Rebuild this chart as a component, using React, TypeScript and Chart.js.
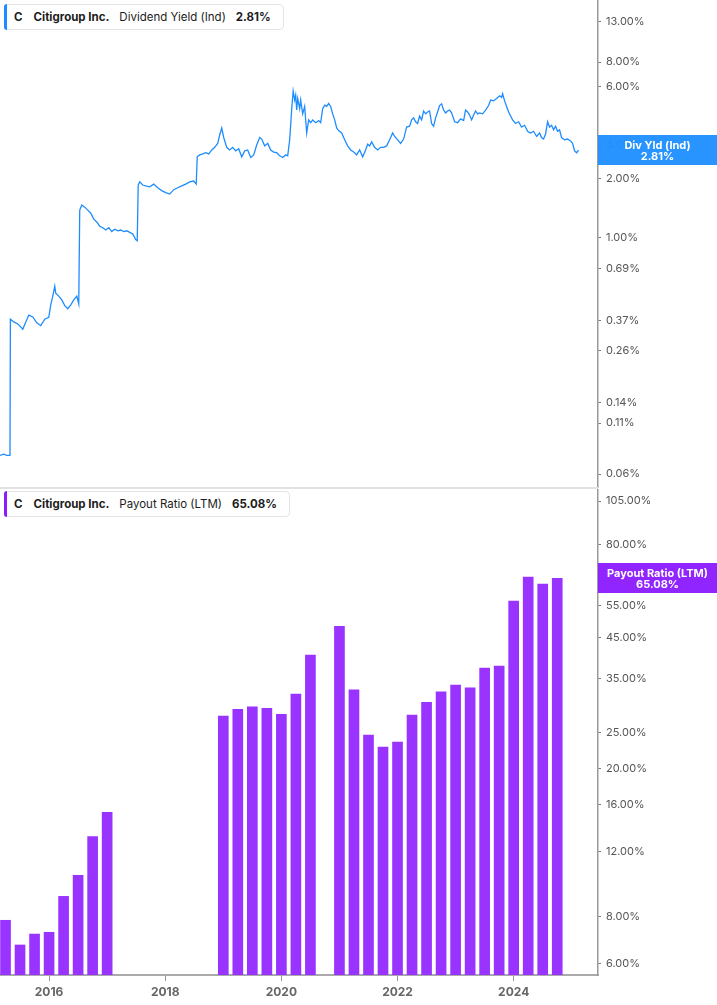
import React, { useEffect, useRef } from "react";
import { Chart, registerables } from "chart.js";

Chart.register(...registerables);

// ---------- data ----------
const yieldDates = [
  2015.152, 2015.220, 2015.272, 2015.327, 2015.334, 2015.393, 2015.461, 2015.513, 2015.547, 2015.599,
  2015.651, 2015.720, 2015.788, 2015.857, 2015.926, 2015.995, 2016.029, 2016.064, 2016.098, 2016.115,
  2016.167, 2016.219, 2016.270, 2016.322, 2016.374, 2016.425, 2016.477, 2016.511, 2016.528, 2016.563,
  2016.615, 2016.666, 2016.718, 2016.770, 2016.821, 2016.873, 2016.924, 2016.976, 2017.028, 2017.079,
  2017.131, 2017.183, 2017.234, 2017.286, 2017.338, 2017.389, 2017.441, 2017.492, 2017.518, 2017.535,
  2017.561, 2017.613, 2017.665, 2017.733, 2017.802, 2017.871, 2017.940, 2018.009, 2018.077, 2018.146,
  2018.215, 2018.284, 2018.353, 2018.422, 2018.491, 2018.534, 2018.551, 2018.594, 2018.646, 2018.697,
  2018.749, 2018.801, 2018.852, 2018.904, 2018.938, 2018.973, 2019.007, 2019.059, 2019.110, 2019.162,
  2019.214, 2019.265, 2019.317, 2019.369, 2019.420, 2019.472, 2019.524, 2019.575, 2019.627, 2019.661,
  2019.713, 2019.765, 2019.816, 2019.868, 2019.919, 2019.971, 2020.023, 2020.074, 2020.109, 2020.143,
  2020.177, 2020.203, 2020.229, 2020.246, 2020.264, 2020.281, 2020.315, 2020.332, 2020.367, 2020.401,
  2020.436, 2020.470, 2020.505, 2020.539, 2020.591, 2020.642, 2020.677, 2020.711, 2020.746, 2020.780,
  2020.814, 2020.849, 2020.883, 2020.918, 2020.952, 2020.986, 2021.038, 2021.090, 2021.141, 2021.193,
  2021.245, 2021.296, 2021.348, 2021.400, 2021.451, 2021.486, 2021.520, 2021.554, 2021.606, 2021.658,
  2021.709, 2021.761, 2021.813, 2021.864, 2021.916, 2021.950, 2022.002, 2022.053, 2022.105, 2022.157,
  2022.208, 2022.243, 2022.277, 2022.312, 2022.346, 2022.380, 2022.415, 2022.449, 2022.484, 2022.518,
  2022.552, 2022.587, 2022.621, 2022.656, 2022.690, 2022.724, 2022.759, 2022.793, 2022.828, 2022.862,
  2022.897, 2022.931, 2022.983, 2023.034, 2023.086, 2023.138, 2023.172, 2023.207, 2023.241, 2023.276,
  2023.310, 2023.344, 2023.379, 2023.413, 2023.465, 2023.517, 2023.568, 2023.603, 2023.654, 2023.706,
  2023.758, 2023.792, 2023.809, 2023.844, 2023.878, 2023.913, 2023.947, 2023.981, 2024.033, 2024.085,
  2024.136, 2024.188, 2024.240, 2024.291, 2024.343, 2024.395, 2024.446, 2024.480, 2024.515, 2024.549,
  2024.584, 2024.618, 2024.653, 2024.687, 2024.721, 2024.756, 2024.790, 2024.825, 2024.876, 2024.928,
  2024.980, 2025.014, 2025.049, 2025.083, 2025.117,
];

const yieldValues = [
  0.075, 0.076, 0.075, 0.075, 0.378, 0.366, 0.357, 0.345, 0.335, 0.366,
  0.397, 0.388, 0.362, 0.350, 0.378, 0.386, 0.448, 0.497, 0.559, 0.514,
  0.497, 0.475, 0.444, 0.428, 0.448, 0.475, 0.497, 0.453, 1.382, 1.467,
  1.43, 1.38, 1.33, 1.24, 1.20, 1.14, 1.12, 1.09, 1.12, 1.07,
  1.10, 1.08, 1.09, 1.07, 1.08, 1.06, 1.04, 0.973, 0.96, 1.86,
  1.93, 1.86, 1.84, 1.82, 1.88, 1.80, 1.74, 1.70, 1.67, 1.76,
  1.80, 1.84, 1.88, 1.93, 1.95, 1.88, 2.60, 2.66, 2.69, 2.73,
  2.69, 2.82, 2.91, 3.05, 3.37, 3.66, 3.27, 2.91, 2.82, 2.91,
  2.79, 2.86, 2.60, 2.79, 2.82, 2.58, 2.66, 2.99, 3.27, 3.21,
  2.96, 3.05, 2.82, 2.75, 2.73, 2.63, 2.58, 2.66, 2.63, 3.18,
  4.53, 5.68, 5.10, 5.40, 4.53, 5.20, 4.60, 5.10, 4.33, 4.73,
  3.45, 4.03, 3.90, 4.03, 3.90, 4.00, 3.90, 4.60, 4.80, 4.73,
  4.90, 4.73, 4.33, 4.03, 3.66, 3.55, 3.45, 3.18, 2.96, 2.82,
  2.75, 2.66, 2.82, 2.60, 2.82, 3.02, 2.96, 3.10, 2.91, 2.82,
  2.91, 2.91, 2.96, 3.18, 3.45, 3.31, 3.18, 3.05, 3.21, 3.70,
  3.74, 4.03, 4.13, 3.94, 3.86, 4.22, 4.03, 4.48, 4.33, 4.43,
  4.48, 3.86, 3.74, 4.13, 4.43, 4.78, 4.88, 4.53, 4.38, 4.48,
  4.53, 4.38, 3.94, 3.90, 4.08, 4.00, 4.53, 4.43, 4.27, 4.03,
  4.27, 4.48, 4.33, 4.38, 4.33, 4.53, 4.78, 5.10, 5.05, 5.20,
  5.37, 5.27, 5.50, 5.05, 4.73, 4.43, 4.22, 4.03, 3.86, 3.94,
  3.70, 3.78, 3.52, 3.45, 3.52, 3.31, 3.45, 3.27, 3.21, 3.41,
  3.94, 3.70, 3.78, 3.58, 3.74, 3.52, 3.58, 3.27, 3.18, 3.21,
  3.14, 3.05, 2.79, 2.73, 2.81,
];

const payoutDates = [
  2015.25, 2015.5, 2015.75, 2016.0, 2016.25, 2016.5, 2016.75, 2017.0,
  2017.25, 2017.5, 2017.75, 2018.0, 2018.25, 2018.5, 2018.75,
  2019.0, 2019.25, 2019.5, 2019.75, 2020.0, 2020.25, 2020.5, 2020.75,
  2021.0, 2021.25, 2021.5, 2021.75, 2022.0, 2022.25, 2022.5, 2022.75,
  2023.0, 2023.25, 2023.5, 2023.75, 2024.0, 2024.25, 2024.5, 2024.75,
];

const payoutValues: (number | null)[] = [
  7.83, 6.72, 7.19, 7.27, 9.08, 10.34, 13.14, 15.28,
  null, null, null, null, null, null, null,
  27.74, 28.92, 29.38, 29.09, 28.04, 31.78, 40.47, null,
  48.35, 32.6, 24.66, 22.89, 23.6, 27.9, 30.2, 32.2,
  33.6, 33.0, 37.3, 37.8, 56.5, 65.6, 62.8, 65.08,
];

const yieldTicks = [13, 8, 6, 3, 2, 1, 0.69, 0.37, 0.26, 0.14, 0.11, 0.06];
const payoutTicks = [105, 80, 55, 45, 35, 25, 20, 16, 12, 8, 6];
const yearTicks = [2016, 2018, 2020, 2022, 2024];

const ticker = "C";
const company = "Citigroup Inc.";
const yieldName = "Dividend Yield (Ind)";
const yieldTag = "Div Yld (Ind)";
const payoutName = "Payout Ratio (LTM)";

// ---------- styling ----------
const BLUE = "#1E8CFF";
const BLUE_TAG = "#1E90FF";
const PURPLE_BAR = "#9933FF";
const PURPLE_TAG = "#8C1CFF";
const FONT = "Inter, 'Noto Sans', 'DejaVu Sans', sans-serif";
const AXIS_W = 119;
const X_MIN = 2015.155;
const X_MAX = 2025.452;

const valueTag = {
  id: "valueTag",
  afterDraw(chart: any, _args: any, opts: any) {
    const ys = chart.scales.y;
    const ctx = chart.ctx;
    const y = ys.getPixelForValue(opts.value);
    const x0 = ys.left;
    const w = chart.width - x0;
    ctx.save();
    ctx.globalAlpha = 0.96;
    ctx.fillStyle = opts.color;
    ctx.fillRect(x0, Math.round(y - 15), w, 30);
    ctx.globalAlpha = 1;
    ctx.fillStyle = "#ffffff";
    ctx.font = "bold 11px " + FONT;
    ctx.textAlign = "center";
    ctx.textBaseline = "middle";
    ctx.fillText(opts.label, x0 + w / 2, y - 5);
    ctx.fillText(opts.value.toFixed(2) + "%", x0 + w / 2, y + 6);
    ctx.restore();
  },
};

function yAxis(min: number, max: number, ticks: number[]) {
  return {
    type: "logarithmic" as const,
    position: "right" as const,
    min,
    max,
    afterBuildTicks: (s: any) => {
      s.ticks = ticks.map((v) => ({ value: v }));
    },
    afterFit: (s: any) => {
      s.width = AXIS_W;
      s.paddingTop = 0;
      s.paddingBottom = 0;
    },
    ticks: {
      autoSkip: false,
      callback: (v: any) => Number(v).toFixed(2) + "%",
      color: "#555",
      font: { size: 11, family: FONT },
      padding: 5,
    },
    grid: { drawOnChartArea: false, tickLength: 3, color: "#777", lineWidth: 1 },
    border: { color: "#9a9a9a", width: 1.5 },
  };
}

function Legend({ top, color, name, value }: { top: number; color: string; name: string; value: string }) {
  return (
    <div
      style={{
        position: "absolute",
        left: 4,
        top,
        height: 26,
        boxSizing: "border-box",
        border: "1px solid #e4e4e4",
        borderRadius: 4,
        display: "flex",
        alignItems: "center",
        fontFamily: FONT,
        fontSize: 11.5,
        color: "#1c1c1c",
        background: "#fff",
        paddingLeft: 9,
        paddingRight: 12,
        whiteSpace: "nowrap",
      }}
    >
      <div
        style={{
          position: "absolute",
          left: -1,
          top: -1,
          bottom: -1,
          width: 3,
          background: color,
          borderRadius: "3px 0 0 3px",
        }}
      />
      <span style={{ fontWeight: 700 }}>{ticker}</span>
      <span style={{ fontWeight: 700, marginLeft: 11 }}>{company}</span>
      <span style={{ marginLeft: 10 }}>{name}</span>
      <span style={{ fontWeight: 700, marginLeft: 10 }}>{value}</span>
    </div>
  );
}

export default function App() {
  const topRef = useRef<HTMLCanvasElement>(null);
  const botRef = useRef<HTMLCanvasElement>(null);

  useEffect(() => {
    Chart.defaults.font.family = FONT;
    const lastYield = yieldValues[yieldValues.length - 1];
    const lastPayout = payoutValues[payoutValues.length - 1] as number;

    const top = new Chart(topRef.current!, {
      type: "line",
      data: {
        datasets: [
          {
            data: yieldDates.map((x, i) => ({ x, y: yieldValues[i] })),
            borderColor: BLUE,
            borderWidth: 1.3,
            pointRadius: 0,
            tension: 0,
            fill: false,
          },
        ],
      },
      options: {
        animation: false,
        responsive: true,
        maintainAspectRatio: false,
        layout: { padding: 0 },
        plugins: {
          legend: { display: false },
          tooltip: { enabled: false },
          valueTag: { value: lastYield, label: yieldTag, color: BLUE_TAG },
        } as any,
        scales: {
          x: { type: "linear", min: X_MIN, max: X_MAX, display: false },
          y: yAxis(0.0509, 16.74, yieldTicks) as any,
        },
      },
      plugins: [valueTag],
    });

    const bot = new Chart(botRef.current!, {
      type: "bar",
      data: {
        datasets: [
          {
            data: payoutDates.map((x, i) => ({ x, y: payoutValues[i] })) as any,
            backgroundColor: PURPLE_BAR,
            borderWidth: 0,
            barThickness: 10,
          },
        ],
      },
      options: {
        animation: false,
        responsive: true,
        maintainAspectRatio: false,
        layout: { padding: 0 },
        plugins: {
          legend: { display: false },
          tooltip: { enabled: false },
          valueTag: { value: lastPayout, label: payoutName, color: PURPLE_TAG },
        } as any,
        scales: {
          x: {
            type: "linear",
            min: X_MIN,
            max: X_MAX,
            offset: false,
            afterBuildTicks: (s: any) => {
              s.ticks = yearTicks.map((v) => ({ value: v }));
            },
            afterFit: (s: any) => {
              s.height = 30;
              s.paddingLeft = 0;
              s.paddingRight = 0;
            },
            ticks: {
              autoSkip: false,
              maxRotation: 0,
              callback: (v: any) => String(v),
              color: "#666",
              font: { size: 12, weight: "bold", family: FONT },
              padding: 4,
            },
            grid: { drawOnChartArea: false, offset: false, tickLength: 6, color: "#999" },
            border: { color: "#aaa", width: 2 },
          } as any,
          y: yAxis(5.58, 113.1, payoutTicks) as any,
        },
      },
      plugins: [valueTag],
    });

    return () => {
      top.destroy();
      bot.destroy();
    };
  }, []);

  return (
    <div style={{ position: "fixed", left: 0, top: 0, width: 717, height: 1005, background: "#fff", overflow: "hidden" }}>
      <div style={{ position: "absolute", left: 0, top: 0, width: 717, height: 488 }}>
        <canvas ref={topRef} />
      </div>
      <div style={{ position: "absolute", left: 0, top: 487, width: 598, height: 2, background: "#e2e2e2" }} />
      <div style={{ position: "absolute", left: 0, top: 489, width: 717, height: 516 }}>
        <canvas ref={botRef} />
      </div>
      <Legend top={4} color={BLUE} name={yieldName} value={yieldValues[yieldValues.length - 1].toFixed(2) + "%"} />
      <Legend
        top={491}
        color={PURPLE_TAG}
        name={payoutName}
        value={(payoutValues[payoutValues.length - 1] as number).toFixed(2) + "%"}
      />
    </div>
  );
}
